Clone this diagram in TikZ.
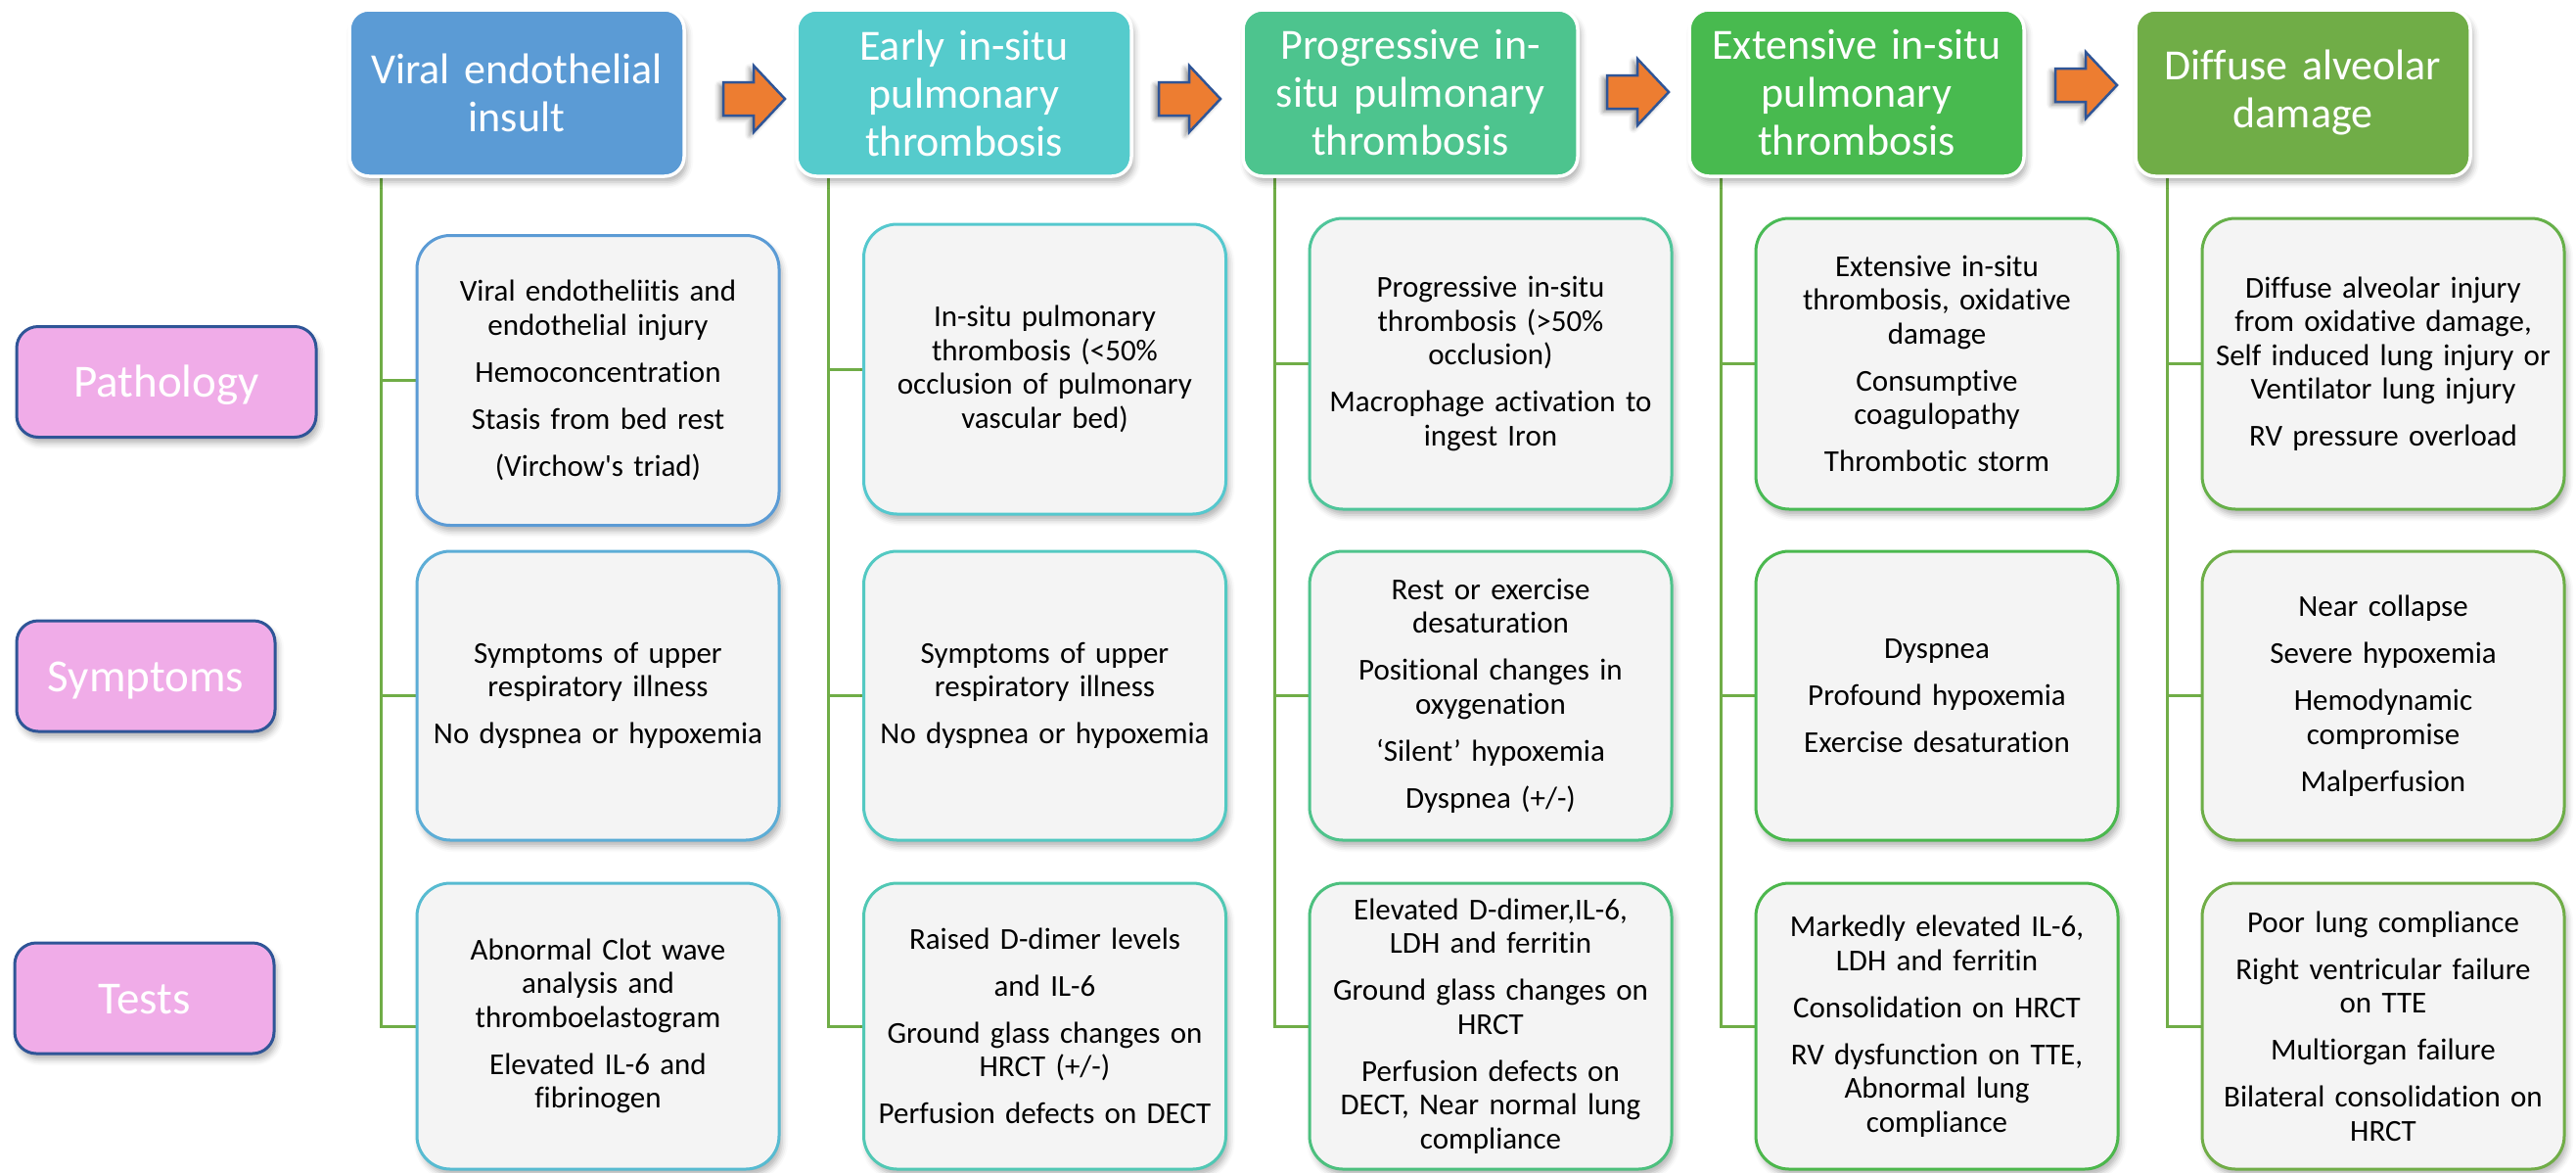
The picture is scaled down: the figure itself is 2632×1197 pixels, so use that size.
\documentclass[tikz,border=0pt]{standalone}
\usepackage{fontspec}
\setmainfont{Carlito}[Ligatures={NoCommon}]
\usetikzlibrary{calc,shadows.blur}
\definecolor{bgc}{HTML}{EFEFEF}
\definecolor{boxfill}{HTML}{F4F4F4}
\definecolor{hA}{HTML}{5B9BD5}
\definecolor{hB}{HTML}{55CBCC}
\definecolor{hC}{HTML}{4DC48E}
\definecolor{hD}{HTML}{48BA4F}
\definecolor{hE}{HTML}{70AD47}
\definecolor{bA1}{HTML}{5B9BD5}
\definecolor{bA2}{HTML}{5CADD6}
\definecolor{bA3}{HTML}{57BBD1}
\definecolor{bB1}{HTML}{55C8CE}
\definecolor{bB2}{HTML}{53C9C2}
\definecolor{bB3}{HTML}{51C8B4}
\definecolor{bC1}{HTML}{4FC59A}
\definecolor{bC2}{HTML}{4EC38B}
\definecolor{bC3}{HTML}{4CC07E}
\definecolor{bD1}{HTML}{49BA55}
\definecolor{bD2}{HTML}{4AB84E}
\definecolor{bD3}{HTML}{4CB74C}
\definecolor{bE1}{HTML}{66B049}
\definecolor{bE2}{HTML}{6DAE47}
\definecolor{bE3}{HTML}{70AD47}
\definecolor{conc}{HTML}{70AD47}
\definecolor{pinkc}{HTML}{F0ACE8}
\definecolor{pinkb}{HTML}{2F5597}
\definecolor{orc}{HTML}{ED7D31}
\definecolor{arb}{HTML}{2F5597}
\pgfdeclarelayer{bg}
\pgfdeclarelayer{lines}
\pgfsetlayers{bg,lines,main}
\begin{document}
\begin{tikzpicture}[x=1pt,y=-1pt,
  shad/.style={blur shadow={shadow xshift=3pt,shadow yshift=-6pt,shadow blur radius=6pt,shadow opacity=30}},
  hdr/.style={shad,rounded corners=20pt,draw=white,line width=3.5pt,text=white,
    minimum width=342pt,minimum height=170pt,text width=332pt,align=center,inner sep=0pt,
    font=\fontsize{44}{49}\selectfont},
  cbox/.style={shad,rounded corners=34pt,fill=boxfill,line width=3pt,
    minimum width=370pt,text width=362pt,align=center,inner sep=0pt,
    font=\fontsize{31}{34.5}\selectfont},
  lbl/.style={shad,rounded corners=22pt,fill=pinkc,draw=pinkb,line width=3pt,text=white,
    font=\fontsize{47}{50}\selectfont,inner sep=0pt,text height=31pt,text depth=0pt,minimum height=113pt},
  conn/.style={draw=conc,line width=3pt},
  arr/.style={fill=orc,draw=arb,line width=2.5pt,line join=miter,
    blur shadow={shadow xshift=-4pt,shadow yshift=-3pt,shadow blur radius=5pt,shadow opacity=45}},
  blockarrow/.pic={\path[arr] (-63,-17) -- (-32,-17) -- (-32,-34) -- (0,0) -- (-32,34) -- (-32,17) -- (-63,17) -- cycle;}
]
\begin{pgfonlayer}{bg}
\fill[bgc] (0,0) rectangle (2632,1197);
\end{pgfonlayer}
\useasboundingbox (0,0) rectangle (2632,1197);
% dummy shadow outside the page (absorbs first-shadow artefact)
\path[shad,fill=bgc] (-900,-900) rectangle (-800,-800);

% headers
\node[hdr,fill=hA] (h1) at (528,95) {Viral endothelial\\insult};
\node[hdr,fill=hB] (h2) at (985,95) {Early in-situ\\pulmonary\\thrombosis};
\node[hdr,fill=hC] (h3) at (1441,95) {Progressive in-\\situ pulmonary\\thrombosis};
\node[hdr,fill=hD] (h4) at (1897,95) {Extensive in-situ\\pulmonary\\thrombosis};
\node[hdr,fill=hE] (h5) at (2353,95) {Diffuse alveolar\\damage};

% arrows
\pic at (802,101) {blockarrow};
\pic at (1247,101) {blockarrow};
\pic at (1705,94) {blockarrow};
\pic at (2163,87) {blockarrow};

% row labels
\node[lbl,minimum width=306pt] (lp) at (170,390) {Pathology};
\node[lbl,minimum width=264pt] (ls) at (149,690.5) {Symptoms};
\node[lbl,minimum width=265pt] (lt) at (147.5,1019.5) {Tests};

% column 1
\node[cbox,draw=bA1,minimum height=296pt] (p1) at (611,388.5)
  {Viral endotheliitis and\\endothelial injury\\[13.5pt]Hemoconcentration\\[13.5pt]Stasis from bed rest\\[13.5pt](Virchow\textquotesingle s triad)};
\node[cbox,draw=bA2,minimum height=295pt] (s1) at (611,710.5)
  {Symptoms of upper\\respiratory illness\\[13.5pt]No dyspnea or hypoxemia};
\node[cbox,draw=bA3,minimum height=292pt] (t1) at (611,1048)
  {Abnormal Clot wave\\analysis and\\thromboelastogram\\[13.5pt]Elevated IL-6 and\\fibrinogen};

% column 2
\node[cbox,draw=bB1,minimum height=296pt] (p2) at (1067.5,377)
  {In-situ pulmonary\\thrombosis (<50\%\\occlusion of pulmonary\\vascular bed)};
\node[cbox,draw=bB2,minimum height=295pt] (s2) at (1067.5,710.5)
  {Symptoms of upper\\respiratory illness\\[13.5pt]No dyspnea or hypoxemia};
\node[cbox,draw=bB3,minimum height=292pt] (t2) at (1067.5,1048)
  {Raised D-dimer levels\\[13.5pt]and IL-6\\[13.5pt]Ground glass changes on\\HRCT (+/-)\\[13.5pt]Perfusion defects on DECT};

% column 3
\node[cbox,draw=bC1,minimum height=297pt] (p3) at (1523,371.5)
  {Progressive in-situ\\thrombosis (>50\%\\occlusion)\\[13.5pt]Macrophage activation to\\ingest Iron};
\node[cbox,draw=bC2,minimum height=295pt] (s3) at (1523,710.5)
  {Rest or exercise\\desaturation\\[13.5pt]Positional changes in\\oxygenation\\[13.5pt]‘Silent’ hypoxemia\\[13.5pt]Dyspnea (+/-)};
\node[cbox,draw=bC3,minimum height=292pt] (t3) at (1523,1048)
  {Elevated D-dimer,IL-6,\\LDH and ferritin\\[13.5pt]Ground glass changes on\\HRCT\\[13.5pt]Perfusion defects on\\DECT, Near normal lung\\compliance};

% column 4
\node[cbox,draw=bD1,minimum height=297pt] (p4) at (1979,371.5)
  {Extensive in-situ\\thrombosis, oxidative\\damage\\[13.5pt]Consumptive\\coagulopathy\\[13.5pt]Thrombotic storm};
\node[cbox,draw=bD2,minimum height=295pt] (s4) at (1979,710.5)
  {Dyspnea\\[13.5pt]Profound hypoxemia\\[13.5pt]Exercise desaturation};
\node[cbox,draw=bD3,minimum height=292pt] (t4) at (1979,1048)
  {Markedly elevated IL-6,\\LDH and ferritin\\[13.5pt]Consolidation on HRCT\\[13.5pt]RV dysfunction on TTE,\\Abnormal lung\\compliance};

% column 5
\node[cbox,draw=bE1,minimum height=297pt] (p5) at (2435,371.5)
  {Diffuse alveolar injury\\from oxidative damage,\\Self induced lung injury or\\Ventilator lung injury\\[13.5pt]RV pressure overload};
\node[cbox,draw=bE2,minimum height=295pt] (s5) at (2435,710.5)
  {Near collapse\\[13.5pt]Severe hypoxemia\\[13.5pt]Hemodynamic\\compromise\\[13.5pt]Malperfusion};
\node[cbox,draw=bE3,minimum height=292pt] (t5) at (2435,1048)
  {Poor lung compliance\\[13.5pt]Right ventricular failure\\on TTE\\[13.5pt]Multiorgan failure\\[13.5pt]Bilateral consolidation on\\HRCT};

% connectors
\begin{pgfonlayer}{lines}
\foreach \i in {1,...,5}{
  \coordinate (v\i) at ($(h\i.south west)+(34,-1.75)$);
  \draw[conn] (v\i) |- (t\i.west);
  \draw[conn] (v\i |- p\i.west) -- (p\i.west);
  \draw[conn] (v\i |- s\i.west) -- (s\i.west);
}
\end{pgfonlayer}
\end{tikzpicture}
\end{document}
